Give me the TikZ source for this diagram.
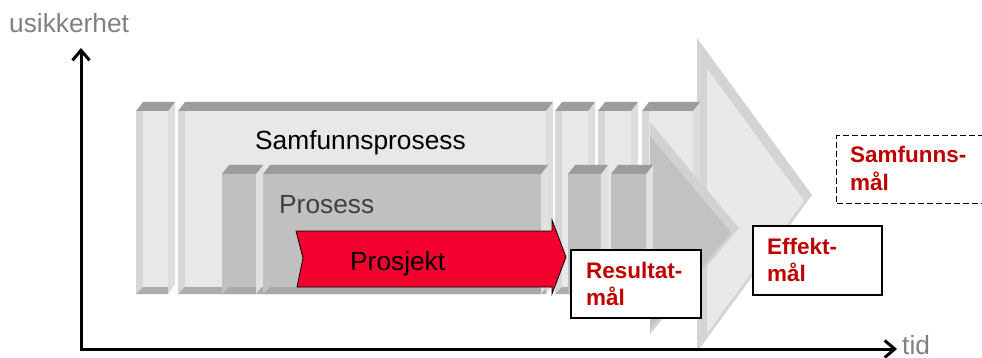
\documentclass[tikz,border=0pt]{standalone}
\usepackage{fontspec}
\setmainfont{Liberation Sans}
\usetikzlibrary{arrows.meta}
\definecolor{bfront}{HTML}{E8E8E8}
\definecolor{bleft}{HTML}{D6D6D6}
\definecolor{bside}{HTML}{DDDDDD}
\definecolor{btop}{HTML}{9C9C9C}
\definecolor{bbot}{HTML}{ADADAD}
\definecolor{mfront}{HTML}{C0C0C0}
\definecolor{mleft}{HTML}{C0C0C0}
\definecolor{mside}{HTML}{E0E0E0}
\definecolor{mtop}{HTML}{9C9C9C}
\definecolor{mbot}{HTML}{A9A9A9}
\definecolor{headouter}{HTML}{D4D4D4}
\definecolor{headinner}{HTML}{E9E9E9}
\definecolor{mheadouter}{HTML}{D2D2D2}
\definecolor{mheadinner}{HTML}{C2C2C2}
\definecolor{projred}{RGB}{242,0,46}
\definecolor{goalred}{HTML}{C00000}
\definecolor{axisgray}{HTML}{808080}
\definecolor{procgray}{HTML}{404040}
\newcommand\gbar[5]{%
 \fill[#5side] ({#2-7},{#3+9}) -- (#2,#3) -- (#2,{#4-9}) -- ({#2-7},#4) -- cycle;
 \fill[#5front] (#1,{#3+9}) rectangle ({#2-7},#4);
 \fill[#5left] (#1,{#3+9}) rectangle ({#1+7},#4);
 \fill[#5top] (#1,{#3+9}) -- ({#1+7},#3) -- (#2,#3) -- ({#2-7},{#3+9}) -- cycle;
 \fill[#5bot] (#1,#4) -- ({#1+7},{#4-7}) -- ({#2-7},{#4-7}) -- ({#2-7},#4) -- cycle;
}
\begin{document}
\begin{tikzpicture}[x=1pt,y=-1pt,
  bigtext/.style={font=\fontsize{26.3}{31}\selectfont, inner sep=0pt, anchor=base west},
  goaltext/.style={font=\fontsize{22.5}{27}\selectfont\bfseries, text=goalred, inner sep=0pt, anchor=base west},
  goalbox/.style={draw=black, line width=1.5pt, fill=white, anchor=north west, inner sep=0pt},
  axisline/.style={line width=3pt, line join=miter, {Straight Barb[length=10pt,width=17pt]}-{Straight Barb[length=10pt,width=17pt]}},
  redarrow/.style={fill=projred, draw=black, line width=0.8pt}]
\useasboundingbox (0,0) rectangle (982,358);
% back (Samfunnsprosess) arrow head
\fill[headouter] (697,38) -- (812,195) -- (697,352) -- cycle;
\fill[headinner] (707,68.6) -- (804,201) -- (707,333.4) -- cycle;
% back bars
\gbar{136}{175}{102}{294}{b}
\gbar{178}{553}{102}{294}{b}
\gbar{555}{595}{102}{294}{b}
\gbar{598}{638}{102}{294}{b}
\gbar{642}{700}{102}{294}{b}
% middle (Prosess) arrow head
\fill[mheadouter] (650,122) -- (739,228) -- (650,334) -- cycle;
\fill[mheadinner] (650,136) -- (731,232.6) -- (650,329.3) -- cycle;
% middle bars
\gbar{222}{263}{165}{294}{m}
\gbar{263}{548}{165}{294}{m}
\gbar{568}{608}{165}{294}{m}
\gbar{611}{653}{165}{294}{m}
% project arrow
\draw[redarrow] (296,231) -- (552,231) -- (552,220) -- (566,257) -- (552,294) -- (552,287) -- (297,287) -- (303,258) -- cycle;
% goal boxes
\node[goalbox, minimum width=130pt, minimum height=68pt] (resbox) at (570,249) {};
\node[goalbox, minimum width=129pt, minimum height=69pt] (effbox) at (752,225) {};
\node[goalbox, dashed, dash pattern=on 6pt off 3pt, line width=1.2pt, minimum width=170pt, minimum height=68pt] (sambox) at (836,135) {};
% axes
\coordinate (ytop) at (81,48);
\coordinate (origin) at (81,349);
\coordinate (xend) at (897,349);
\draw[axisline] (ytop) -- (origin) -- (xend);
% texts
\node[bigtext, text=axisgray] (ylabel) at (9,33) {usikkerhet};
\node[bigtext, text=axisgray] (xlabel) at (902,354) {tid};
\node[bigtext] (samproc) at (255,150) {Samfunnsprosess};
\node[bigtext, text=procgray] (proc) at (279,214) {Prosess};
\node[bigtext] (proj) at (350,270) {Prosjekt};
\node[goaltext] (res1) at (586,278) {Resultat-};
\node[goaltext] (res2) at (586,305) {mål};
\node[goaltext] (eff1) at (767,254) {Effekt-};
\node[goaltext] (eff2) at (767,281) {mål};
\node[goaltext] (sam1) at (850,163) {Samfunns-};
\node[goaltext] (sam2) at (850,190) {mål};
\end{tikzpicture}
\end{document}
